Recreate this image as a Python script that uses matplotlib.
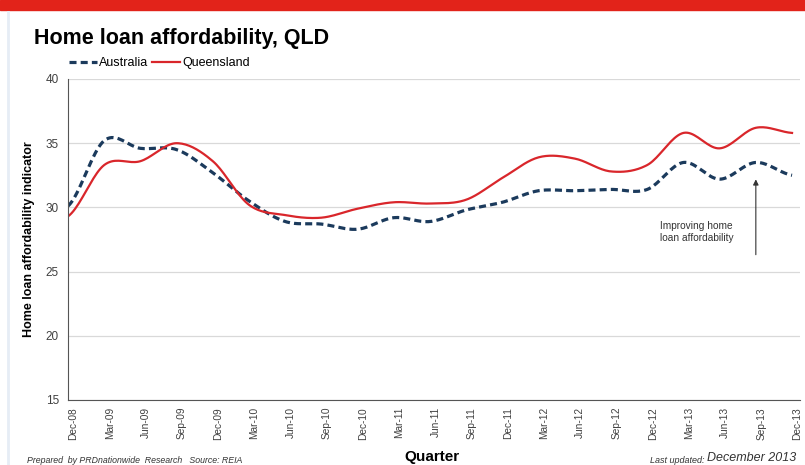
import matplotlib.pyplot as plt
import matplotlib.lines as mlines
import numpy as np

plt.rcParams['font.family'] = ['Liberation Sans', 'DejaVu Sans']

quarters = ['Dec-08', 'Mar-09', 'Jun-09', 'Sep-09', 'Dec-09', 'Mar-10', 'Jun-10',
            'Sep-10', 'Dec-10', 'Mar-11', 'Jun-11', 'Sep-11', 'Dec-11', 'Mar-12',
            'Jun-12', 'Sep-12', 'Dec-12', 'Mar-13', 'Jun-13', 'Sep-13', 'Dec-13']
australia = [30.1, 35.2, 34.6, 34.5, 32.7, 30.5, 28.9, 28.7, 28.3, 29.2, 28.9,
             29.8, 30.4, 31.3, 31.3, 31.4, 31.4, 33.5, 32.2, 33.5, 32.5]
queensland = [29.3, 33.3, 33.6, 35.0, 33.6, 30.2, 29.4, 29.2, 29.9, 30.4, 30.3,
              30.6, 32.3, 33.9, 33.8, 32.8, 33.3, 35.8, 34.6, 36.2, 35.8]


def smooth(y, n=20):
    # catmull-rom style curve like Excel's "smoothed line"
    y = np.asarray(y, float)
    p = np.concatenate([[y[0]], y, [y[-1]]])
    xs, ys = [], []
    t = np.linspace(0, 1, n, endpoint=False)
    for i in range(len(y) - 1):
        p0, p1, p2, p3 = p[i], p[i + 1], p[i + 2], p[i + 3]
        seg = 0.5 * ((2 * p1) + (-p0 + p2) * t + (2 * p0 - 5 * p1 + 4 * p2 - p3) * t ** 2
                     + (-p0 + 3 * p1 - 3 * p2 + p3) * t ** 3)
        xs.extend(i + t)
        ys.extend(seg)
    xs.append(len(y) - 1)
    ys.append(y[-1])
    return np.array(xs), np.array(ys)


fig = plt.figure(figsize=(8.05, 4.65), dpi=100)
ax = fig.add_axes([68 / 805, 1 - 400 / 465, 732 / 805, 321 / 465])

xa, ya = smooth(australia)
xq, yq = smooth(queensland)
ax.plot(xa, ya, color='#1b3a5c', lw=2.3, ls=(0, (2.2, 1.3)), label='Australia')
ax.plot(xq, yq, color='#d9262b', lw=1.6, label='Queensland')

ax.set_ylim(15, 40)
ax.set_xlim(0, 20.22)
ax.set_yticks([15, 20, 25, 30, 35, 40])
# labels sit a little right of the data points, like the Excel original
ax.set_xticks(np.arange(len(quarters)) + 0.15)
ax.set_xticklabels(quarters, rotation=90, fontsize=7.3, color='#404040')
ax.tick_params(axis='y', labelsize=8.5, colors='#404040', length=0, pad=6.5)
ax.tick_params(axis='x', length=0, pad=5)
ax.grid(axis='y', color='#d9d9d9', lw=0.9)
ax.set_axisbelow(True)
for s in ['top', 'right']:
    ax.spines[s].set_visible(False)
ax.spines['left'].set_color('#555555')
ax.spines['bottom'].set_color('#555555')
ax.set_ylabel('Home loan affordability indicator', fontsize=9, fontweight='bold', labelpad=8)

ax.annotate('', xy=(19, 32.4), xytext=(19, 26.1),
            arrowprops=dict(arrowstyle='-|>', color='#333333', lw=0.8, mutation_scale=8))
ax.text(16.35, 28.95, 'Improving home\nloan affordability', fontsize=7.3, color='#333333',
        va='top', ha='left', linespacing=1.3)

# red band and frame
fig.patches.append(plt.Rectangle((0, 1 - 10 / 465), 1, 10 / 465, transform=fig.transFigure,
                                 color='#e2231a', zorder=0))
fig.lines.append(mlines.Line2D([8 / 805, 8 / 805], [0, 1 - 12 / 465], transform=fig.transFigure,
                               color='#e6edf5', lw=2))

fig.text(34 / 805, 1 - 38 / 465, 'Home loan affordability, QLD', fontsize=15.5, fontweight='bold',
         va='center', ha='left')
fig.legend(loc='center left', bbox_to_anchor=(64 / 805, 1 - 63 / 465), ncol=2, frameon=False,
           fontsize=9, handlelength=2.2, handletextpad=0.2, columnspacing=0.3, borderaxespad=0)

fig.text(27 / 805, 1 - 460 / 465, 'Prepared  by PRDnationwide  Research   Source: REIA',
         fontsize=6.3, style='italic', color='#333333', va='center')
fig.text(432 / 805, 1 - 457 / 465, 'Quarter', fontsize=11, fontweight='bold', ha='center', va='center')
fig.text(704 / 805, 1 - 460 / 465, 'Last updated:', fontsize=6.5, style='italic', color='#333333',
         ha='right', va='center')
fig.text(707 / 805, 1 - 458 / 465, 'December 2013', fontsize=9, style='italic', color='#333333',
         ha='left', va='center')

fig.savefig('out.png', dpi=100)
